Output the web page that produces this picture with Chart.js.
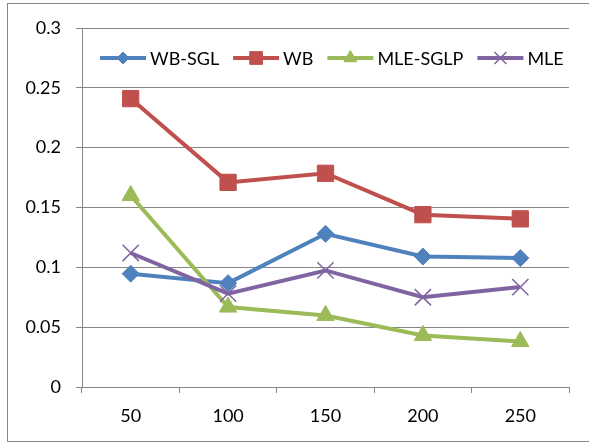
<!DOCTYPE html>
<html lang="en">
<head>
<meta charset="UTF-8">
<title>Estimator comparison</title>
<script src="https://cdn.jsdelivr.net/npm/chart.js"></script>
<style>
  body { margin: 0; background: #fff; }
</style>
</head>
<body>
<canvas id="chart" width="589" height="445"></canvas>
<script>
// values
const sampleSizes = ['50', '100', '150', '200', '250'];
const wbSgl   = [0.0947, 0.0868, 0.128, 0.109, 0.1077];
const wb      = [0.241, 0.171, 0.1786, 0.144, 0.1405];
const mleSglp = [0.16, 0.0668, 0.0598, 0.0431, 0.038];
const mle     = [0.112, 0.078, 0.0974, 0.075, 0.0835];

const FONT = 'Lato';
const GRID = '#868686';

function series(label, data, color, style, radius, legendRadius, order, pbw) {
  return {
    label, data, order, legendRadius,
    borderColor: color,
    backgroundColor: color,
    borderWidth: 4,
    pointStyle: style,
    pointRadius: radius,
    pointHoverRadius: radius,
    pointBackgroundColor: color,
    pointBorderColor: color,
    pointBorderWidth: pbw,
    tension: 0
  };
}

// white background + thin outer frame like the office chart
const frame = {
  id: 'frame',
  beforeDraw(chart) {
    const ctx = chart.ctx;
    ctx.save();
    ctx.fillStyle = '#fff';
    ctx.fillRect(0, 0, chart.width, chart.height);
    ctx.strokeStyle = GRID;
    ctx.lineWidth = 1;
    ctx.strokeRect(7.5, 3.5, 590, 438);
    ctx.restore();
  }
};

// legend sits inside the plot, under the top gridline
const insideLegend = {
  id: 'insideLegend',
  afterDraw(chart) {
    const ctx = chart.ctx, area = chart.chartArea;
    const lineLen = 46, gapText = 4, gapItem = 14;
    ctx.save();
    ctx.font = '18px ' + FONT;
    ctx.textBaseline = 'middle';
    let x = area.left + 18;
    const y = area.top + 30;
    chart.data.datasets.forEach(ds => {
      ctx.strokeStyle = ds.borderColor;
      ctx.fillStyle = ds.borderColor;
      ctx.lineWidth = 4;
      ctx.beginPath();
      ctx.moveTo(x, y);
      ctx.lineTo(x + lineLen, y);
      ctx.stroke();
      ctx.lineWidth = ds.pointBorderWidth;
      Chart.helpers.drawPoint(ctx, {
        pointStyle: ds.pointStyle, radius: ds.legendRadius,
        borderWidth: ds.pointBorderWidth, rotation: 0
      }, x + lineLen / 2, y);
      x += lineLen + gapText;
      ctx.fillStyle = '#000';
      ctx.fillText(ds.label, x, y + 1);
      x += ctx.measureText(ds.label).width + gapItem;
    });
    ctx.restore();
  }
};

new Chart(document.getElementById('chart'), {
  type: 'line',
  data: {
    labels: sampleSizes,
    datasets: [
      series('WB-SGL', wbSgl, '#4F81BD', 'rectRot', 8.5, 6, 4, 1),
      series('WB', wb, '#C0504D', 'rect', 11.5, 9, 3, 1),
      series('MLE-SGLP', mleSglp, '#9BBB59', 'triangle', 10, 7.5, 2, 1),
      series('MLE', mle, '#8064A2', 'crossRot', 11.5, 8.5, 1, 1.5)
    ]
  },
  options: {
    responsive: false,
    animation: false,
    layout: { padding: { left: 22, right: 20, top: 28, bottom: 10 } },
    plugins: {
      legend: { display: false },
      tooltip: { enabled: false }
    },
    scales: {
      x: {
        offset: true,
        grid: { offset: true, drawOnChartArea: false, tickLength: 6, color: GRID },
        border: { color: GRID },
        ticks: { color: '#000', font: { family: FONT, size: 18 }, padding: 12 },
        afterFit: s => { s.height = 48; }
      },
      y: {
        min: 0,
        max: 0.3,
        grid: { color: GRID, tickLength: 6 },
        border: { color: GRID },
        ticks: {
          stepSize: 0.05,
          color: '#000',
          font: { family: FONT, size: 18 },
          padding: 15,
          callback: v => String(+v.toFixed(2))
        },
        afterFit: s => { s.width = 60; }
      }
    }
  },
  plugins: [frame, insideLegend]
});
</script>
</body>
</html>
